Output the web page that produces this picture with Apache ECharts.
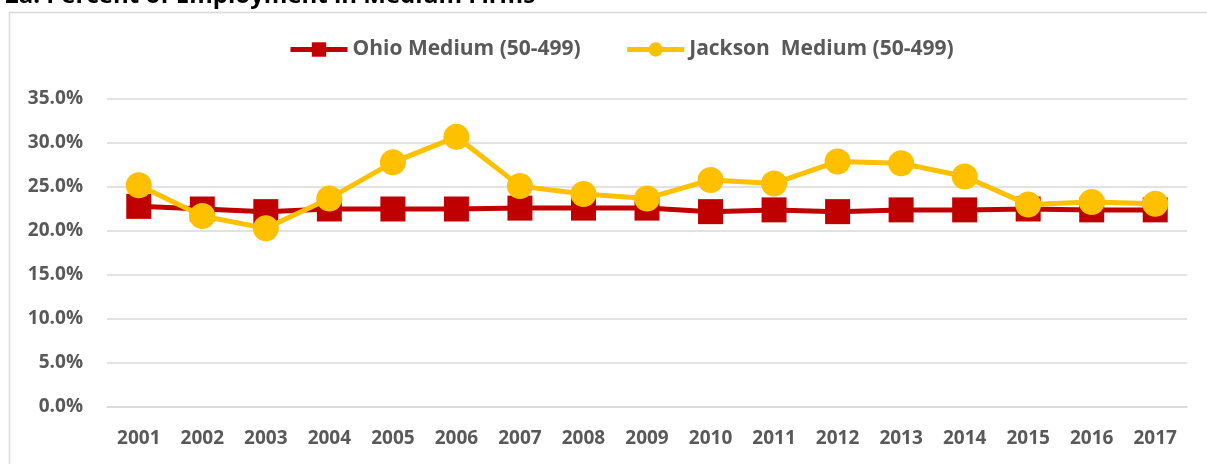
<!DOCTYPE html>
<html>
<head>
<meta charset="utf-8">
<script src="https://cdn.jsdelivr.net/npm/echarts@6/dist/echarts.min.js"></script>
<style>
html,body{margin:0;padding:0;background:#fff;}
#c{width:1207px;height:464px;}
</style>
</head>
<body>
<div id="c"></div>
<script>
const titleText = '2a. Percent of Employment in Medium Firms';
const years = ['2001','2002','2003','2004','2005','2006','2007','2008','2009','2010','2011','2012','2013','2014','2015','2016','2017'];
const ohioName = 'Ohio Medium (50-499)';
const jacksonName = 'Jackson  Medium (50-499)';
const ohioValues = [22.8,22.5,22.2,22.5,22.5,22.5,22.6,22.6,22.6,22.2,22.4,22.2,22.4,22.4,22.5,22.4,22.4];
const jacksonValues = [25.2,21.7,20.3,23.7,27.8,30.7,25.1,24.2,23.7,25.8,25.4,27.9,27.7,26.2,23.0,23.3,23.1];
const yTicks = {min:0, max:35, interval:5};

const FONT = '"Open Sans", sans-serif';
const chart = echarts.init(document.getElementById('c'), null, {renderer:'canvas'});
chart.setOption({
  backgroundColor:'#fff',
  animation:false,
  title:{
    text:titleText, left:0, top:-21,
    textStyle:{fontFamily:FONT, fontWeight:'bold', fontSize:24, color:'#000'}
  },
  graphic:[{
    type:'rect', left:7, top:10,
    shape:{width:1210, height:470},
    style:{fill:'none', stroke:'#d9d9d9', lineWidth:1.5},
    silent:true, z:-1
  }],
  legend:{
    top:34, left:283,
    itemWidth:57, itemHeight:18, itemGap:44,
    lineStyle:{width:5},
    textStyle:{fontFamily:FONT, fontWeight:'bold', fontSize:21, color:'#595959'},
    data:[ohioName, jacksonName]
  },
  grid:{left:107, right:20, top:99, bottom:57, containLabel:false},
  xAxis:{
    type:'category', data:years, boundaryGap:true,
    axisLine:{show:true, lineStyle:{color:'#d9d9d9', width:1.5}},
    axisTick:{show:false},
    axisLabel:{fontFamily:FONT, fontWeight:'bold', fontSize:19, color:'#595959', margin:22}
  },
  yAxis:{
    type:'value', min:yTicks.min, max:yTicks.max, interval:yTicks.interval,
    axisLine:{show:false}, axisTick:{show:false},
    splitLine:{lineStyle:{color:'#d9d9d9', width:1.5}},
    axisLabel:{fontFamily:FONT, fontWeight:'bold', fontSize:19, color:'#595959', margin:24,
      formatter:v=>v.toFixed(1)+'%'}
  },
  series:[
    {name:ohioName, type:'line', data:ohioValues, symbol:'rect', symbolSize:25,
     lineStyle:{color:'#C00000', width:5}, itemStyle:{color:'#C00000'}, z:2},
    {name:jacksonName, type:'line', data:jacksonValues, symbol:'circle', symbolSize:26,
     lineStyle:{color:'#FFC000', width:5}, itemStyle:{color:'#FFC000'}, z:3}
  ]
});
</script>
</body>
</html>
